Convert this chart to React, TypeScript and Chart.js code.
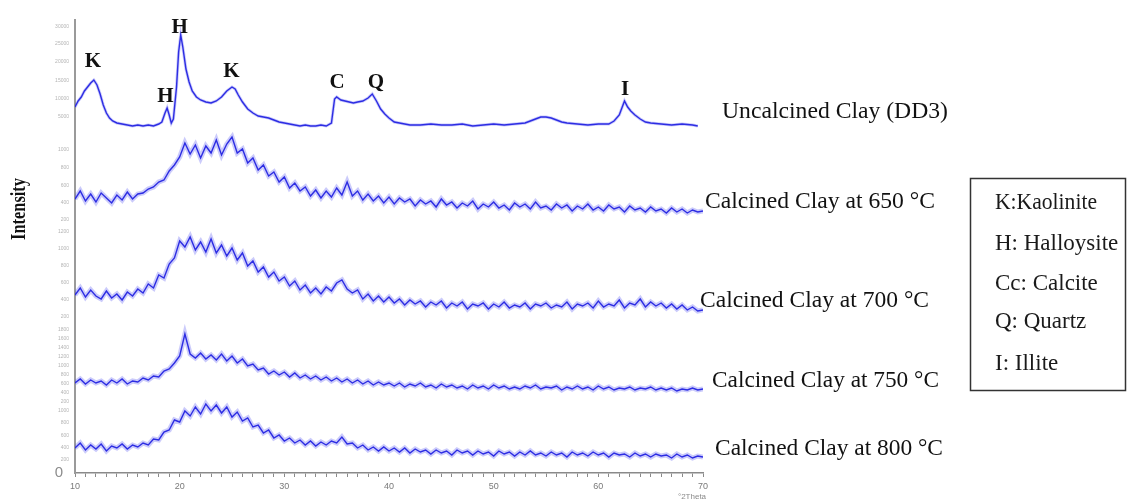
import React, { useEffect, useRef } from "react";
import { Chart, registerables } from "chart.js";

Chart.register(...registerables);

// 2θ grid (degrees) shared by the calcined scans
const TWO_THETA = [
  10, 10.5, 11, 11.5, 12, 12.5, 13, 13.5, 14, 14.5,
  15, 15.5, 16, 16.5, 17, 17.5, 18, 18.5, 19, 19.5,
  20, 20.5, 21, 21.5, 22, 22.5, 23, 23.5, 24, 24.5,
  25, 25.5, 26, 26.5, 27, 27.5, 28, 28.5, 29, 29.5,
  30, 30.5, 31, 31.5, 32, 32.5, 33, 33.5, 34, 34.5,
  35, 35.5, 36, 36.5, 37, 37.5, 38, 38.5, 39, 39.5,
  40, 40.5, 41, 41.5, 42, 42.5, 43, 43.5, 44, 44.5,
  45, 45.5, 46, 46.5, 47, 47.5, 48, 48.5, 49, 49.5,
  50, 50.5, 51, 51.5, 52, 52.5, 53, 53.5, 54, 54.5,
  55, 55.5, 56, 56.5, 57, 57.5, 58, 58.5, 59, 59.5,
  60, 60.5, 61, 61.5, 62, 62.5, 63, 63.5, 64, 64.5,
  65, 65.5, 66, 66.5, 67, 67.5, 68, 68.5, 69, 69.5,
  70,
];

// Uncalcined clay (DD3): 2θ positions and relative intensity
const UNCALCINED_X = [
  10, 10.3, 10.6, 10.9, 11.2, 11.5, 11.8, 12.1, 12.4, 12.7, 13,
  13.3, 13.6, 14, 14.5, 15, 15.5, 16, 16.5, 17, 17.5, 18,
  18.3, 18.6, 18.8, 19, 19.2, 19.4, 19.7, 19.9, 20.1, 20.3, 20.6, 20.9, 21.2, 21.6, 22,
  22.5, 23, 23.5, 24, 24.5, 25, 25.3, 25.6, 26, 26.5, 27, 27.5, 28, 28.5, 29, 29.5, 30,
  30.5, 31, 31.5, 32, 32.5, 33, 33.5, 34, 34.5,
  34.8, 35, 35.4, 35.8, 36.2, 36.6, 37, 37.5, 38, 38.4, 38.8, 39.2, 39.6, 40,
  40.5, 41, 41.5, 42, 43, 44, 45, 46, 47, 48, 49, 50, 51, 52, 53,
  53.5, 54, 54.5, 55, 55.5, 56, 56.5, 57, 58, 59, 60, 61,
  61.5, 62, 62.5, 62.8, 63.1, 63.5, 64, 64.5, 65, 66, 67, 68, 69, 69.5,
];
const UNCALCINED_I = [
  20, 26, 30, 36, 40, 44, 47, 42, 33, 22, 14,
  9, 6, 4, 3, 2, 1, 2, 1, 2, 1, 3,
  5, 14, 19, 12, 4, 8, 40, 75, 92, 80, 58, 45, 36, 30, 27,
  25, 24, 26, 30, 36, 40, 38, 32, 25, 18, 14, 11, 10, 9, 7, 5, 4,
  3, 2, 1, 2, 1, 1, 2, 1, 4,
  28, 30, 27, 26, 25, 24, 25, 26, 29, 33, 26, 18, 13, 9,
  5, 4, 3, 2, 2, 3, 2, 2, 3, 1, 2, 3, 2, 3, 4,
  6, 8, 10, 10, 9, 7, 5, 4, 3, 2, 3, 3,
  6, 12, 26, 20, 16, 12, 8, 5, 4, 3, 2, 3, 2, 1,
];

const CALCINED_650 = [
  16, 24, 14, 21, 13, 22, 17, 12, 20, 15,
  23, 16, 21, 22, 26, 28, 33, 35, 44, 50,
  58, 72, 61, 70, 57, 69, 62, 75, 60, 71,
  78, 62, 66, 52, 57, 45, 50, 39, 43, 33,
  38, 27, 32, 24, 28, 19, 25, 17, 24, 18,
  27, 20, 33, 19, 24, 15, 21, 14, 19, 12,
  18, 11, 17, 13, 16, 9, 15, 11, 14, 8,
  16, 10, 13, 7, 12, 9, 14, 6, 11, 8,
  13, 7, 10, 5, 12, 8, 11, 6, 13, 7,
  9, 5, 11, 7, 10, 4, 9, 6, 11, 5,
  8, 4, 10, 6, 8, 3, 9, 5, 7, 3,
  8, 4, 6, 2, 7, 3, 6, 2, 5, 3,
  4,
];

const CALCINED_700 = [
  20, 27, 18, 25, 19, 16, 24, 17, 21, 15,
  23, 19, 26, 22, 31, 27, 40, 37, 51, 57,
  74, 68, 78, 65, 73, 63, 76, 62, 70, 59,
  67, 55, 62, 49, 54, 43, 48, 38, 43, 34,
  38, 29, 34, 25, 30, 22, 27, 21, 28, 24,
  32, 35, 26, 22, 25, 16, 21, 14, 19, 13,
  18, 12, 16, 10, 15, 11, 14, 8, 13, 10,
  14, 7, 12, 9, 13, 6, 11, 9, 12, 6,
  11, 8, 13, 7, 10, 8, 12, 6, 11, 9,
  12, 7, 10, 8, 13, 6, 11, 9, 12, 7,
  14, 8, 11, 9, 15, 7, 12, 10, 16, 8,
  13, 9, 12, 7, 11, 6, 10, 5, 8, 4,
  5,
];

const CALCINED_750 = [
  9, 13, 8, 12, 9, 11, 7, 12, 9, 13,
  8, 11, 10, 14, 12, 16, 15, 21, 23, 29,
  36, 58, 38, 34, 39, 33, 37, 32, 38, 31,
  36, 29, 33, 26, 28, 22, 24, 18, 21, 17,
  20, 15, 19, 14, 17, 13, 16, 12, 15, 11,
  14, 10, 13, 9, 12, 8, 11, 7, 10, 7,
  9, 6, 9, 5, 8, 6, 9, 5, 7, 4,
  8, 5, 7, 4, 6, 3, 7, 4, 6, 3,
  7, 4, 6, 3, 5, 3, 6, 4, 7, 3,
  5, 4, 6, 2, 5, 3, 6, 3, 5, 2,
  6, 3, 5, 2, 4, 3, 5, 2, 4, 3,
  5, 2, 4, 2, 4, 1, 3, 2, 4, 2,
  3,
];

const CALCINED_800 = [
  12, 17, 10, 15, 11, 16, 9, 14, 12, 16,
  11, 15, 13, 17, 15, 21, 20, 28, 30, 40,
  38, 49, 44, 53, 46, 56, 49, 55, 47, 53,
  43, 48, 39, 42, 33, 35, 27, 30, 22, 25,
  19, 22, 17, 20, 15, 19, 14, 18, 15, 19,
  17, 23, 16, 17, 12, 15, 10, 13, 9, 13,
  9, 12, 8, 12, 7, 11, 8, 10, 6, 10,
  7, 9, 5, 10, 7, 9, 5, 9, 6, 8,
  4, 9, 6, 8, 4, 8, 5, 9, 5, 7,
  4, 8, 5, 7, 3, 8, 5, 7, 4, 8,
  5, 7, 3, 7, 5, 6, 3, 7, 4, 6,
  3, 6, 4, 5, 2, 6, 3, 5, 2, 4,
  3,
];

const SERIES_NAMES = [
  "Uncalcined Clay (DD3)",
  "Calcined Clay at 650 °C",
  "Calcined Clay at 700 °C",
  "Calcined Clay at 750 °C",
  "Calcined Clay at 800 °C",
];
// vertical stacking offsets of each scan (intensity units)
const SERIES_OFFSETS = [346, 258, 158, 81, 13];

// phase labels above the peaks (2θ, intensity level of the label baseline)
const PEAK_TEXT = ["K", "H", "H", "K", "C", "Q", "I"];
const PEAK_THETA = [11.7, 18.65, 20.0, 24.95, 35.05, 38.75, 62.55];
const PEAK_LEVEL = [406, 371, 440, 396, 385, 385, 378];

const LEGEND_ITEMS = ["K:Kaolinite", "H: Halloysite", "Cc: Calcite", "Q: Quartz", "I: Illite"];

const X_TICKS = [10, 20, 30, 40, 50, 60, 70];

// faint per-scan intensity scale labels on the y axis
const MINI_TICK_TEXT = [
  ["30000", "25000", "20000", "15000", "10000", "5000"],
  ["1000", "800", "600", "400", "200"],
  ["1200", "1000", "800", "600", "400", "200"],
  ["1800", "1600", "1400", "1200", "1000", "800", "600", "400", "200"],
  ["1000", "800", "600", "400", "200"],
];
const MINI_TICK_LEVEL = [
  [446, 429, 411, 392, 374, 356],
  [323, 305, 287, 270, 253],
  [241, 224, 207, 190, 173, 156],
  [143, 134, 125, 116, 107, 98, 89, 80, 71],
  [62, 50, 37, 25, 13],
];

const LINE_COLOR = "rgba(36,36,226,0.95)";
const HALO_COLOR = "rgba(70,70,240,0.28)";
const SERIF = '"Liberation Serif", "Times New Roman", serif';

const annotations = {
  id: "annotations",
  afterDraw(chart: any) {
    const ctx = chart.ctx as CanvasRenderingContext2D;
    const xs = chart.scales.x;
    const ys = chart.scales.y;
    ctx.save();

    // mini y labels
    ctx.fillStyle = "#b4b4b4";
    ctx.font = '5px "Liberation Sans", sans-serif';
    ctx.textAlign = "right";
    ctx.textBaseline = "middle";
    MINI_TICK_TEXT.forEach((arr, k) =>
      arr.forEach((t, i) => ctx.fillText(t, xs.left - 6, ys.getPixelForValue(MINI_TICK_LEVEL[k][i])))
    );

    // peak letters
    ctx.fillStyle = "#111";
    ctx.font = `bold 21px ${SERIF}`;
    ctx.textAlign = "center";
    ctx.textBaseline = "alphabetic";
    PEAK_TEXT.forEach((t, i) =>
      ctx.fillText(t, xs.getPixelForValue(PEAK_THETA[i]), ys.getPixelForValue(PEAK_LEVEL[i]))
    );

    // series names
    ctx.textAlign = "left";
    ctx.font = `24px ${SERIF}`;
    const namePos = [
      [722, 118, 226],
      [705, 208, 230],
      [700, 307, 229],
      [712, 387, 227],
      [715, 455, 228],
    ];
    SERIES_NAMES.forEach((n, i) => ctx.fillText(n, namePos[i][0], namePos[i][1], namePos[i][2]));

    // y title
    ctx.save();
    ctx.translate(25, 209);
    ctx.rotate(-Math.PI / 2);
    ctx.textAlign = "center";
    ctx.font = `bold 21px ${SERIF}`;
    ctx.fillText("Intensity", 0, 0, 62);
    ctx.restore();

    // x title
    ctx.fillStyle = "#8a8a8a";
    ctx.font = '8px "Liberation Sans", sans-serif';
    ctx.textAlign = "center";
    ctx.fillText("°2Theta", 692, 499);

    // legend box
    ctx.strokeStyle = "#333";
    ctx.lineWidth = 1.5;
    ctx.strokeRect(970.5, 178.5, 155, 212);
    ctx.fillStyle = "#1a1a1a";
    ctx.font = `23px ${SERIF}`;
    ctx.textAlign = "left";
    const legBase = [209, 250, 290, 328, 370];
    const legW = [102, 131, 105, 93, 67];
    LEGEND_ITEMS.forEach((t, i) => ctx.fillText(t, 995, legBase[i], legW[i]));

    ctx.restore();
  },
};

export default function App() {
  const canvasRef = useRef<HTMLCanvasElement | null>(null);

  useEffect(() => {
    document.body.style.margin = "0";
    const canvas = canvasRef.current;
    if (!canvas) return;
    const seriesX = [UNCALCINED_X, TWO_THETA, TWO_THETA, TWO_THETA, TWO_THETA];
    const seriesI = [UNCALCINED_I, CALCINED_650, CALCINED_700, CALCINED_750, CALCINED_800];
    const points = seriesI.map((vals, k) =>
      vals.map((v, i) => ({ x: seriesX[k][i], y: SERIES_OFFSETS[k] + v }))
    );
    const lines = points.map((data, k) => ({
      label: SERIES_NAMES[k],
      data,
      borderColor: LINE_COLOR,
      borderWidth: 1.4,
      pointRadius: 0,
      fill: false,
      tension: 0,
      order: 0,
    }));
    const halos = points.map((data, k) => ({
      label: SERIES_NAMES[k] + " (halo)",
      data,
      borderColor: HALO_COLOR,
      borderWidth: k === 0 ? 3 : 5,
      pointRadius: 0,
      fill: false,
      tension: 0,
      order: 1,
    }));
    const chart = new Chart(canvas, {
      type: "line",
      data: { datasets: [...halos, ...lines] },
      options: {
        responsive: false,
        animation: false,
        layout: { padding: { left: 35, top: 20, right: 425, bottom: 0 } },
        plugins: { legend: { display: false }, tooltip: { enabled: false } },
        scales: {
          x: {
            type: "linear",
            min: 10,
            max: 70,
            afterFit: (s: any) => {
              s.height = 28;
            },
            ticks: {
              stepSize: 1,
              autoSkip: false,
              maxRotation: 0,
              padding: 4,
              color: "#7a7a7a",
              font: { family: "Liberation Sans", size: 9 },
              callback: (v: any) => (X_TICKS.includes(Number(v)) ? String(v) : ""),
            },
            grid: { display: true, drawOnChartArea: false, drawTicks: true, tickLength: 4, color: "#8a8a8a" },
            border: { display: true, color: "#8a8a8a", width: 1.5 },
          },
          y: {
            min: 0,
            max: 453,
            afterFit: (s: any) => {
              s.width = 40;
            },
            afterBuildTicks: (s: any) => {
              s.ticks = [{ value: 0 }];
            },
            ticks: { color: "#8c8c8c", padding: 4, font: { family: "Liberation Sans", size: 15 } },
            grid: { display: false },
            border: { display: true, color: "#9a9a9a", width: 2 },
          },
        },
      },
      plugins: [annotations],
    } as any);
    return () => chart.destroy();
  }, []);

  return (
    <div style={{ position: "absolute", left: 0, top: 0, width: 1128, height: 501, background: "#fff" }}>
      <canvas ref={canvasRef} width={1128} height={501} style={{ display: "block" }} />
    </div>
  );
}
